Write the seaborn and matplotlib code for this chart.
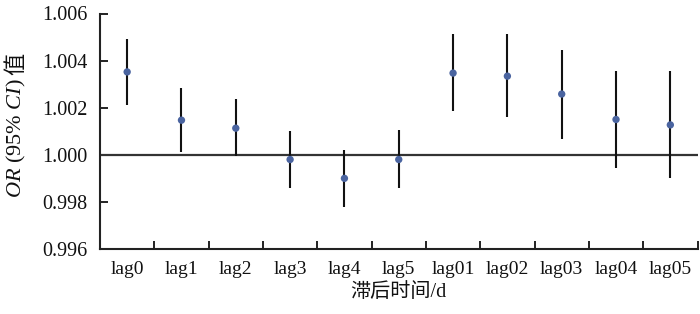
import matplotlib
matplotlib.use("Agg")
import matplotlib.pyplot as plt
import seaborn as sns
import pandas as pd
import numpy as np

lags = ["lag0", "lag1", "lag2", "lag3", "lag4", "lag5",
        "lag01", "lag02", "lag03", "lag04", "lag05"]
or_vals = [1.00352, 1.00147, 1.00113, 0.99980, 0.99900, 0.99980,
           1.00347, 1.00334, 1.00258, 1.00150, 1.00127]
ci_low = [1.00212, 1.00013, 0.99996, 0.99859, 0.99778, 0.99859,
          1.00187, 1.00160, 1.00069, 0.99943, 0.99901]
ci_high = [1.00493, 1.00282, 1.00236, 1.00100, 1.00021, 1.00106,
           1.00511, 1.00511, 1.00447, 1.00357, 1.00357]
yticks = [0.996, 0.998, 1.000, 1.002, 1.004, 1.006]

sns.set_theme(style="ticks")
plt.rcParams["font.family"] = ["Liberation Serif", "Noto Sans CJK SC"]
plt.rcParams["mathtext.fontset"] = "custom"
plt.rcParams["mathtext.it"] = "Liberation Serif:italic"
plt.rcParams["mathtext.rm"] = "Liberation Serif"

df = pd.DataFrame({"lag": lags, "OR": or_vals, "lo": ci_low, "hi": ci_high})

W, H = 700, 314
fig = plt.figure(figsize=(W/100, H/100), dpi=100)
ax = fig.add_axes([100/W, 1 - 249/H, (697.5-100)/W, (249-13.5)/H])

ax.axhline(1.0, color="#333333", lw=1.6, zorder=1)
sns.scatterplot(data=df, x="lag", y="OR", ax=ax, s=28, color="#4a64a0",
                edgecolor="none", zorder=3)
ax.vlines(df["lag"], df["lo"], df["hi"], color="#111111", lw=1.5, zorder=2)

ax.set_xlim(-0.5, len(lags) - 0.5)
ax.set_ylim(yticks[0], yticks[-1])
ax.set_yticks(yticks)
ax.set_yticklabels([f"{v:.3f}" for v in yticks])
ax.set_xticks(range(len(lags)))
ax.set_xticklabels(lags)
ax.set_xticks(np.arange(-0.5, len(lags), 1.0), minor=True)
ax.tick_params(axis="x", which="major", length=0, labelsize=14, pad=9, colors="#111111")
ax.tick_params(axis="x", which="minor", length=6, width=1.4, direction="in", color="#222222")
ax.tick_params(axis="y", which="major", length=6, width=1.4, direction="in",
               labelsize=14.5, pad=9, color="#222222", labelcolor="#111111")

for sp in ["top", "right"]:
    ax.spines[sp].set_visible(False)
for sp in ["left", "bottom"]:
    ax.spines[sp].set_color("#222222")
    ax.spines[sp].set_linewidth(1.5)

ax.set_xlabel("滞后时间/d", fontsize=14.5, labelpad=3, color="#111111")
ax.set_ylabel("")

# y label: italic OR / CI via mathtext, CJK char as separate text
t1 = fig.text(16/W, 1 - 198/H, r"$OR$ (95% $CI$)", rotation=90, ha="center",
              va="bottom", fontsize=16, color="#111111")
fig.canvas.draw()
bb = t1.get_window_extent(renderer=fig.canvas.get_renderer())
fig.text(16/W, (bb.y1 + 3)/H, "值", rotation=90, ha="center", va="bottom",
         fontsize=16, color="#111111", family=["Noto Sans CJK SC"])

fig.savefig("out.png", dpi=100)
